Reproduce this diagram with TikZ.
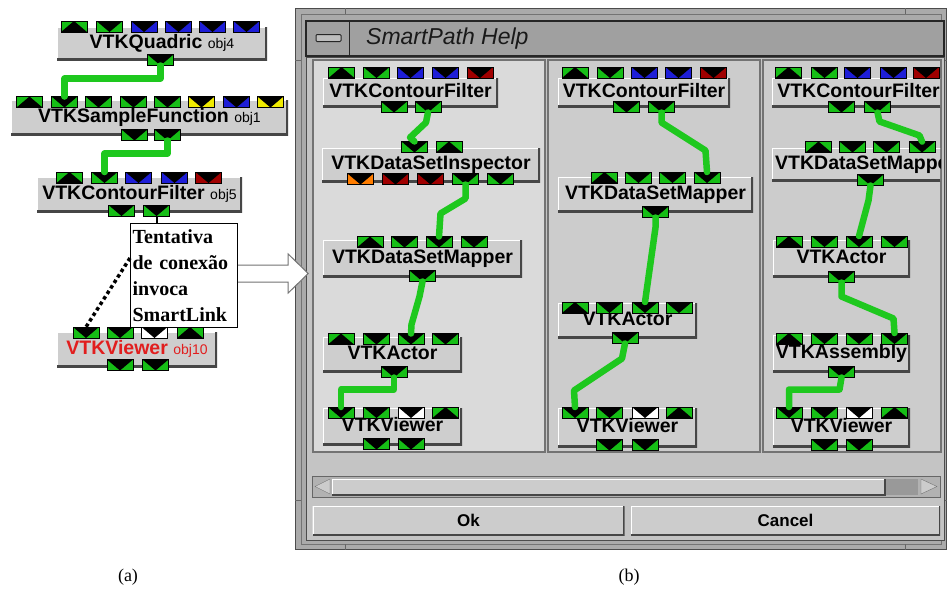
\documentclass[tikz,border=0pt]{standalone}
\usepackage{fontspec}
\newfontfamily\vtkf{Liberation Sans}
\newfontfamily\tmsf{Liberation Serif}
\definecolor{pg}{RGB}{22,190,22}
\definecolor{lg}{RGB}{30,200,30}
\definecolor{pb}{RGB}{30,30,215}
\definecolor{pr}{RGB}{160,0,0}
\definecolor{py}{RGB}{240,235,0}
\definecolor{po}{RGB}{255,125,0}
\definecolor{vred}{RGB}{225,30,30}
\definecolor{boxc}{RGB}{206,206,206}
\definecolor{shad}{RGB}{70,70,70}
\definecolor{framec}{RGB}{170,170,170}
\definecolor{titlec}{RGB}{160,160,160}
\definecolor{contc}{RGB}{196,196,196}
\definecolor{p1c}{RGB}{218,218,218}
\definecolor{p2c}{RGB}{204,204,204}
\newcommand\portrow[3]{\foreach \qx/\qd/\qc [count=\qk] in {#3}{\ifnum\qd=1 \node[pu=\qc] (#1\qk) at (\qx,#2) {};\else\node[pd=\qc] (#1\qk) at (\qx,#2) {};\fi}}
\newcommand\objf{\mdseries\fontsize{14}{14}\selectfont}
\begin{document}
\begin{tikzpicture}[x=1pt,y=-1pt,
  portbase/.style={draw=black, line width=0.8pt, minimum width=26pt, minimum height=11pt, inner sep=0pt, outer sep=0pt},
  pd/.style={portbase, fill=#1, path picture={\fill[black] (path picture bounding box.north west) -- (path picture bounding box.north east) -- (path picture bounding box.south) -- cycle;}},
  pu/.style={portbase, fill=#1, path picture={\fill[black] (path picture bounding box.south west) -- (path picture bounding box.south east) -- (path picture bounding box.north) -- cycle;}},
  vtext/.style={inner sep=0pt, text depth=5pt, text height=14pt, font=\vtkf\bfseries\fontsize{19.5}{19.5}\selectfont},
  vbox/.style={vtext, fill=boxc, path picture={
     \draw[white, line width=2pt] (path picture bounding box.south west) -- (path picture bounding box.north west) -- (path picture bounding box.north east);
     \draw[shad, line width=4pt] (path picture bounding box.south west) -- (path picture bounding box.south east) -- (path picture bounding box.north east);}},
  btn/.style={fill=p2c, inner sep=0pt, font=\vtkf\bfseries\fontsize{17}{17}\selectfont, path picture={
     \draw[white, line width=2pt] (path picture bounding box.south west) -- (path picture bounding box.north west) -- (path picture bounding box.north east);
     \draw[shad, line width=3pt] (path picture bounding box.south west) -- (path picture bounding box.south east) -- (path picture bounding box.north east);}},
  link/.style={draw=lg, line width=6.5pt, line cap=round, line join=round},
  capf/.style={font=\tmsf\fontsize{18}{18}\selectfont, inner sep=0pt}
]
\useasboundingbox (0,0) rectangle (947,590);
\fill[white] (0,0) rectangle (947,590);

% ---------------- (a) ----------------
\node[vbox, minimum width=210, minimum height=33] (quad) at (162,43.5) {VTKQuadric {\objf obj4}};
\portrow{qt}{26.5}{74/1/pg,109.5/0/pg,144/0/pb,178.5/0/pb,212.5/0/pb,246.5/0/pb}
\portrow{qb}{60}{160.5/0/pg}

\node[vbox, minimum width=277, minimum height=35] (samp) at (149.5,117.5) {VTKSampleFunction {\objf obj1}};
\portrow{st}{102}{29.5/1/pg,64.5/0/pg,98.5/0/pg,133.5/0/pg,167.5/0/pg,201.5/0/py,236.5/0/pb,270.5/0/py}
\portrow{sb}{135}{134.5/0/pg,167.5/0/pg}

\node[vbox, minimum width=205, minimum height=35] (cf5) at (139.5,194.5) {VTKContourFilter {\objf obj5}};
\portrow{ct}{177.5}{69.5/1/pg,104.5/0/pg,138.5/0/pb,174.5/0/pb,208.5/0/pr}
\portrow{cb}{210.5}{121.5/0/pg,156.5/0/pg}

\node[vbox, minimum width=160, minimum height=35, text=vred] (vw10) at (137,349.5) {VTKViewer {\objf obj10}};
\portrow{vt}{332.5}{86/0/pg,120/0/pg,154.5/0/white,190/1/pg}
\portrow{vb}{365}{120/0/pg,155.5/0/pg}

\draw[link] (qb1.south) -- ++(0,13) -| (st2.north);
\draw[link] (sb2.south) -- ++(0,13) -| (ct2.north);

\node[draw=black, line width=1.2pt, fill=white, minimum width=107, minimum height=104, anchor=north west, inner sep=0pt, text width=103pt, align=left, font=\tmsf\bfseries\fontsize{20}{26}\selectfont] (tbox) at (130,223) {Tentativa\\de conexão\\invoca\\SmartLink};
\draw[black, line width=2pt] (cb2.south) -- (cb2.south |- tbox.north);
\draw[black, line width=3.5pt, dash pattern=on 3.5pt off 3pt] ([yshift=-35pt]tbox.north west) -- (vt1.north);

% ---------------- (b) window ----------------
\fill[framec] (295,8) rectangle (947,550);
\draw[black!70, line width=1pt] (295.5,8.5) rectangle (946.5,549.5);
\draw[black!55, line width=0.8pt] (301,14) rectangle (941,544);
\draw[black!60, line width=1pt] (345,8) -- (345,14) (905,8) -- (905,14) (345,544) -- (345,550) (905,544) -- (905,550)
   (295,60) -- (301,60) (941,60) -- (947,60) (295,500) -- (301,500) (941,500) -- (947,500);
\fill[titlec] (306,21) rectangle (944,56);
\draw[black!85, line width=1.2pt] (306,21) rectangle (944,56);
\draw[black!85, line width=1pt] (349,21) -- (349,56);
\filldraw[fill=titlec!70!white, draw=black!85, line width=1pt, rounded corners=1pt] (316,34.5) rectangle (341,41.5);
\node[anchor=west, inner sep=0pt, text=black!90, font=\vtkf\itshape\fontsize{23}{23}\selectfont] (title) at (366,38.5) {SmartPath Help};
\fill[contc] (306,57) rectangle (944,540);
\draw[black!70, line width=1pt] (306,57) rectangle (944,540);

% panels
\fill[p1c] (313,60) rectangle (545,452);
\fill[p2c] (548,60) rectangle (760,452);
\fill[p2c] (763,60) rectangle (941,452);
\draw[black!55, line width=1.2pt] (313,60) rectangle (545,452) (548,60) rectangle (760,452) (763,60) rectangle (941,452);

% panel 1
\node[vbox, minimum width=175, minimum height=29] (p1cf) at (410.5,92.5) {VTKContourFilter};
\portrow{p1cft}{72.5}{341.5/1/pg,376.5/0/pg,410.5/0/pb,445.5/0/pb,480/0/pr}
\portrow{p1cfb}{107}{394/0/pg,428/0/pg}
\node[vbox, minimum width=218, minimum height=34] (p1dsi) at (431,165) {VTKDataSetInspector};
\portrow{p1dsit}{147}{414.5/0/pg,449/1/pg}
\portrow{p1dsib}{179}{360.5/0/po,395.5/0/pr,430.5/0/pr,465.5/0/pg,500.5/0/pg}
\node[vbox, minimum width=199, minimum height=37] (p1dsm) at (422.5,258.5) {VTKDataSetMapper};
\portrow{p1dsmt}{242}{370/1/pg,404.5/0/pg,439/0/pg,474/0/pg}
\portrow{p1dsmb}{276}{422.5/0/pg}
\node[vbox, minimum width=139, minimum height=35] (p1ac) at (392.5,354.5) {VTKActor};
\portrow{p1act}{339}{341/1/pg,376.5/0/pg,411/0/pg,445.5/0/pg}
\portrow{p1acb}{372}{394/0/pg}
\node[vbox, minimum width=139, minimum height=37] (p1vw) at (392.5,426.5) {VTKViewer};
\portrow{p1vwt}{412.5}{341/0/pg,376.5/0/pg,411/0/white,445.5/1/pg}
\portrow{p1vwb}{444}{376.5/0/pg,411/0/pg}
\draw[link] (p1cfb2.south) -- ++(-2,10) -- ++(-16,15) -- (p1dsit1.north);
\draw[link] (p1dsib4.south) -- ++(0,14) -- ++(-25,15) -- (p1dsmt3.north);
\draw[link] (p1dsmb1.south) -- ++(-3,15) -- ++(-8,28) -- (p1act3.north);
\draw[link] (p1acb1.south) -- ++(0,12) -| (p1vwt1.north);

% panel 2
\node[vbox, minimum width=172, minimum height=29] (p2cf) at (644,92.5) {VTKContourFilter};
\portrow{p2cft}{72.5}{575/1/pg,610/0/pg,644.5/0/pb,678.5/0/pb,713.5/0/pr}
\portrow{p2cfb}{107}{626.5/0/pg,661.5/0/pg}
\node[vbox, minimum width=195, minimum height=35] (p2dsm) at (655.5,194.5) {VTKDataSetMapper};
\portrow{p2dsmt}{177.5}{604.5/1/pg,638.5/0/pg,672.5/0/pg,707/0/pg}
\portrow{p2dsmb}{212}{655.5/0/pg}
\node[vbox, minimum width=139, minimum height=35] (p2ac) at (627.5,320.5) {VTKActor};
\portrow{p2act}{307.5}{575/1/pg,609.5/0/pg,645/0/pg,679/0/pg}
\portrow{p2acb}{338}{625/0/pg}
\node[vbox, minimum width=139, minimum height=39] (p2vw) at (627.5,427.5) {VTKViewer};
\portrow{p2vwt}{412.5}{575/0/pg,609.5/0/pg,645/0/white,679/1/pg}
\portrow{p2vwb}{445}{609.5/0/pg,645/0/pg}
\draw[link] (p2cfb2.south) -- ++(0,10) -- ++(44,28) -- (p2dsmt4.north);
\draw[link] (p2dsmb1.south) -- ++(0,10) -- (p2act3.north);
\draw[link] (p2acb1.south) -- ++(-3,15) -- ++(-48,32) -- (p2vwt1.north);

% panel 3
\begin{scope}
\clip (763,60) rectangle (940,452);
\node[vbox, minimum width=173, minimum height=29] (p3cf) at (858.5,92.5) {VTKContourFilter};
\portrow{p3cft}{72.5}{788.5/1/pg,824.5/0/pg,857.5/0/pb,893.5/0/pb,926/0/pr}
\portrow{p3cfb}{107}{841.5/0/pg,877.5/0/pg}
\node[vbox, minimum width=200, minimum height=33] (p3dsm) at (872,164.5) {};
\node[vtext, anchor=west] (p3dsml) at (775,164.5) {VTKDataSetMapper};
\portrow{p3dsmt}{147}{818.5/1/pg,852.5/0/pg,886.5/0/pg,922/0/pg}
\portrow{p3dsmb}{180}{870.5/0/pg}
\node[vbox, minimum width=137, minimum height=37] (p3ac) at (841.5,258.5) {VTKActor};
\portrow{p3act}{241.5}{789/1/pg,824.5/0/pg,859/0/pg,894.5/0/pg}
\portrow{p3acb}{277}{841.5/0/pg}
\node[vbox, minimum width=137, minimum height=37] (p3as) at (841.5,353.5) {VTKAssembly};
\portrow{p3ast}{338.5}{789/1/pg,824.5/0/pg,859/0/pg,894.5/0/pg}
\portrow{p3asb}{372}{841.5/0/pg}
\node[vbox, minimum width=137, minimum height=39] (p3vw) at (841.5,427.5) {VTKViewer};
\portrow{p3vwt}{412.5}{789/0/pg,824.5/0/pg,859/0/white,894.5/1/pg}
\portrow{p3vwb}{445}{824.5/0/pg,859/0/pg}
\draw[link] (p3cfb2.south) -- ++(2,9) -- ++(40,14) -- (p3dsmt4.north);
\draw[link] (p3dsmb1.south) -- ++(-2,15) -- (p3act3.north);
\draw[link] (p3acb1.south) -- ++(0,14) -- ++(52,22) -- (p3ast4.north);
\draw[link] (p3asb1.south) -- ++(-2,12) -| (p3vwt1.north);
\end{scope}

% scrollbar
\filldraw[fill=framec!90!white, draw=black!60, line width=1pt] (312,476) rectangle (940,497);
\filldraw[fill=p2c, draw=black!55] (315,486.5) -- (330,479) -- (330,494) -- cycle;
\fill[p2c] (332,479) rectangle (885,495);
\draw[white, line width=1pt] (332,495) -- (332,479) -- (885,479);
\draw[shad, line width=1.2pt] (332,495) -- (885,495) -- (885,479);
\fill[black!40] (886,479) rectangle (918,495);
\filldraw[fill=p2c, draw=black!55] (921,479) -- (937,486.5) -- (921,494) -- cycle;

% buttons
\node[btn, minimum width=312, minimum height=29] (ok) at (468.5,520.5) {Ok};
\node[btn, minimum width=309, minimum height=29] (cancel) at (785.5,520.5) {Cancel};

% big hollow arrow
\filldraw[fill=white, draw=black!55, line width=1pt] ([yshift=-42pt]tbox.north east) -- ++(50,0) -- ++(0,-11) -- ++(20,19.5) -- ++(-20,19.5) -- ++(0,-11) -- ++(-50,0);

% captions
\node[capf] (capa) at (128,577) {(a)};
\node[capf] (capb) at (629,577) {(b)};
\end{tikzpicture}
\end{document}
